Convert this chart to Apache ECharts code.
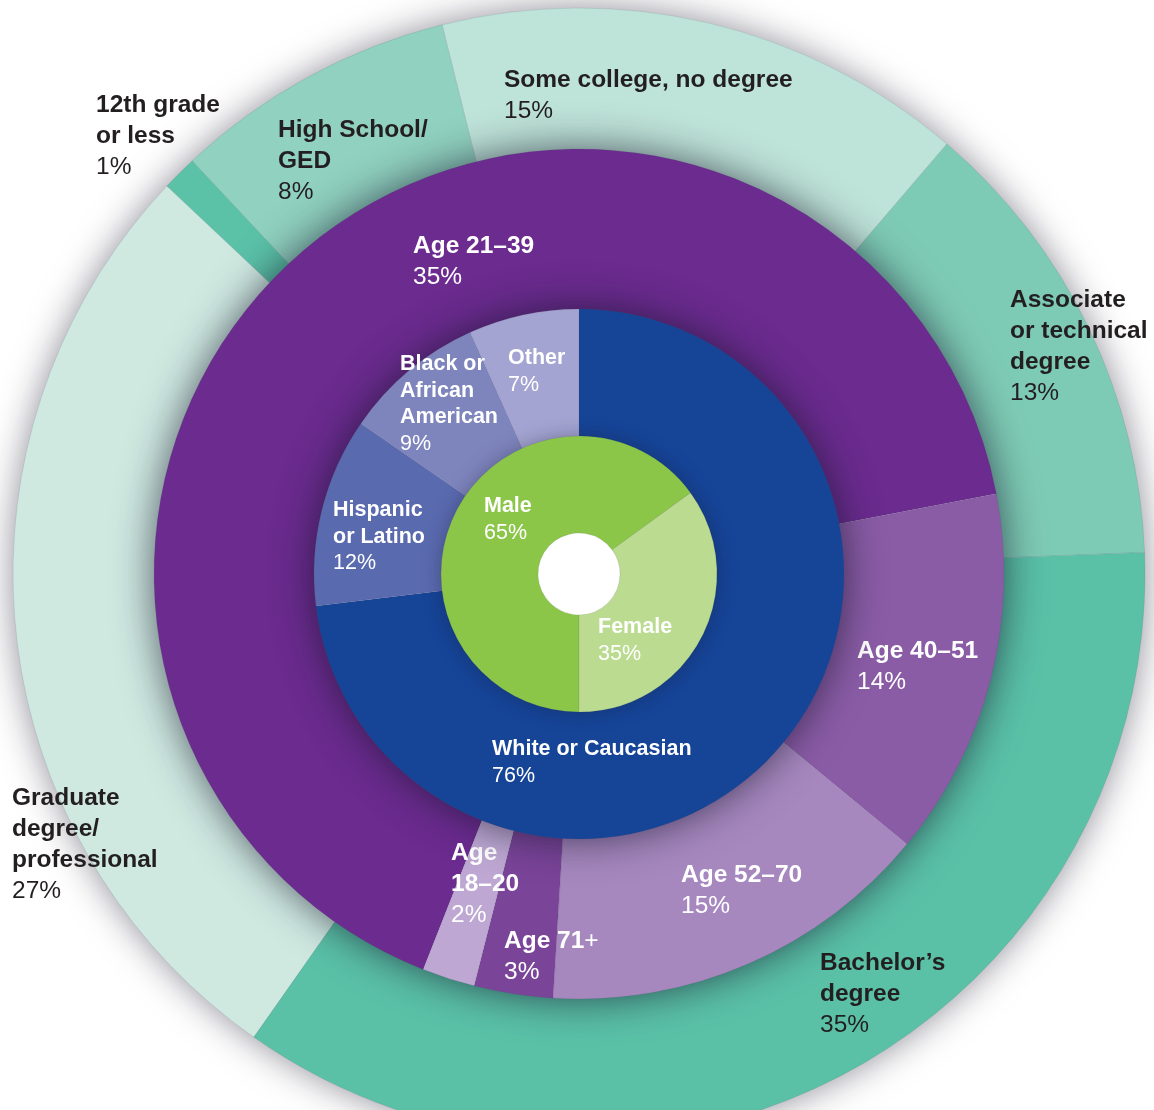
<!DOCTYPE html>
<html>
<head>
<meta charset="utf-8">
<script src="https://cdn.jsdelivr.net/npm/echarts@6/dist/echarts.min.js"></script>
<style>
html,body{margin:0;padding:0;background:#ffffff;}
#chart{width:1154px;height:1110px;}
</style>
</head>
<body>
<div id="chart"></div>
<script>
// ---------- data ----------
const genderNames = ['Male', 'Female'];
const genderValues = [65, 35];
const genderPct = ['65%', '35%'];

const raceNames = ['White or Caucasian', 'Hispanic\nor Latino', 'Black or\nAfrican\nAmerican', 'Other'];
const raceValues = [76, 12, 9, 7];
const racePct = ['76%', '12%', '9%', '7%'];

// arc sizes as drawn in the picture (the 21–39 arc spans ~66% of the ring although it is labelled 35%)
const ageNames = ['Age 21–39', 'Age 40–51', 'Age 52–70', 'Age 71+', 'Age\n18–20'];
const ageValues = [66, 14, 15, 3, 2];
const agePct = ['35%', '14%', '15%', '3%', '2%'];

const eduNames = ['Some college, no degree', 'Associate\nor technical\ndegree', 'Bachelor’s\ndegree',
  'Graduate\ndegree/\nprofessional', '12th grade\nor less', 'High School/\nGED'];
const eduValues = [15, 13, 35, 27, 1, 8];
const eduPct = ['15%', '13%', '35%', '27%', '1%', '8%'];

// ---------- styling / layout ----------
const genderColors = ['#8bc649', '#badb90'];
const raceColors = ['#164497', '#5a6aaf', '#7e85bd', '#a3a4d1'];
const ageColors = ['#6b2b8f', '#8a5ca6', '#a688bf', '#7a4499', '#bea8d3'];
const eduColors = ['#bee3d8', '#7ecbb5', '#5ac1a7', '#cfe9e1', '#5bc2a8', '#90d1bf'];

const CX = 579, CY = 574;
const R_HOLE = 41, R_GENDER = 138, R_RACE = 265, R_AGE = 425, R_EDU = 566;

// top-left corners of label blocks
const genderLabelPos = [[484, 493], [598, 614]];
const raceLabelPos = [[492, 736], [333, 497], [400, 351], [508, 345]];
const ageLabelPos = [[413, 231], [857, 636], [681, 860], [504, 926], [451, 838]];
const eduLabelPos = [[504, 65], [1010, 285], [820, 948], [12, 783], [96, 90], [278, 115]];

const FONT = 'Liberation Sans';

function richFor(size, lh, color) {
  return {
    n: {fontFamily: FONT, fontWeight: 'bold', fontSize: size, lineHeight: lh, color: color},
    p: {fontFamily: FONT, fontWeight: 'normal', fontSize: size, lineHeight: lh, color: color}
  };
}

function makeData(names, values, colors) {
  return names.map((n, i) => ({
    name: n,
    value: values[i],
    itemStyle: {color: colors[i]}
  }));
}

function fmt(pcts) {
  return function (p) {
    const name = p.name;
    const head = name.endsWith('+')
      ? '{n|' + name.slice(0, -1) + '}{p|+}'
      : '{n|' + name + '}';
    return head + '\n{p|' + pcts[p.dataIndex] + '}';
  };
}

function ring(names, values, colors, pcts, r0, r1, startAngle, z, size, lh, color, pos) {
  return {
    type: 'pie',
    z: z,
    silent: true,
    animation: false,
    center: [CX, CY],
    radius: [r0, r1],
    startAngle: startAngle,
    clockwise: true,
    avoidLabelOverlap: false,
    emphasis: {disabled: true},
    itemStyle: {borderWidth: 0.6, borderColor: 'rgba(80,80,100,0.22)'},
    label: {
      show: true,
      position: 'inside',
      fontFamily: FONT,
      fontSize: size,
      color: color,
      formatter: fmt(pcts),
      rich: richFor(size, lh, color)
    },
    labelLine: {show: false},
    labelLayout: function (params) {
      const p = pos[params.dataIndex];
      return {x: p[0], y: p[1], align: 'left', verticalAlign: 'top'};
    },
    data: makeData(names, values, colors)
  };
}

function shadowDisc(r, z, blur, alpha) {
  return {
    type: 'pie',
    z: z,
    silent: true,
    animation: false,
    center: [CX, CY],
    radius: [0, r - 1],
    label: {show: false},
    labelLine: {show: false},
    emphasis: {disabled: true},
    itemStyle: {color: '#ffffff', shadowBlur: blur, shadowColor: 'rgba(20,20,40,' + alpha + ')'},
    data: [{value: 1, name: 's'}]
  };
}

const chart = echarts.init(document.getElementById('chart'), null, {renderer: 'canvas'});
chart.setOption({
  backgroundColor: '#ffffff',
  animation: false,
  series: [
    shadowDisc(R_EDU, 1, 36, 0.5),
    ring(eduNames, eduValues, eduColors, eduPct, R_AGE - 2, R_EDU, 104, 2, 24.5, 31, '#231f20', eduLabelPos),
    shadowDisc(R_AGE, 3, 42, 0.7),
    ring(ageNames, ageValues, ageColors, agePct, R_RACE - 2, R_AGE, -111.5, 4, 24.5, 31, '#ffffff', ageLabelPos),
    shadowDisc(R_RACE, 5, 42, 0.7),
    ring(raceNames, raceValues, raceColors, racePct, R_GENDER - 2, R_RACE, 90, 6, 21.5, 26.5, '#ffffff', raceLabelPos),
    shadowDisc(R_GENDER, 7, 20, 0.35),
    ring(genderNames, genderValues, genderColors, genderPct, R_HOLE, R_GENDER, 270, 8, 21.5, 26.5, '#ffffff', genderLabelPos)
  ]
});
</script>
</body>
</html>
